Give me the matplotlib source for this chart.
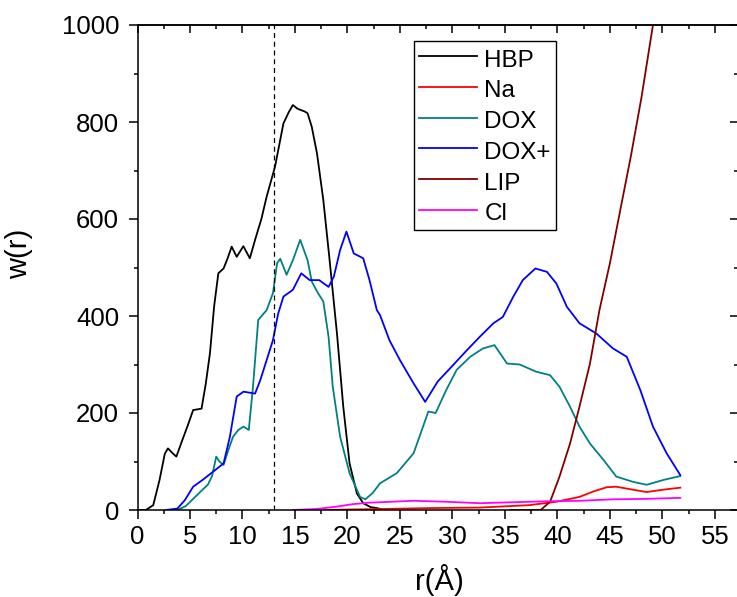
import matplotlib
matplotlib.use("Agg")
import matplotlib.pyplot as plt
from matplotlib.ticker import MultipleLocator

plt.rcParams['font.family'] = ['Liberation Sans', 'DejaVu Sans']

# w(r) curves, r in angstrom
r_hbp = [0, 0.8, 1.5, 2.1, 2.6, 2.9, 3.3, 3.7, 4.2, 4.8, 5.3, 6.1, 6.5, 6.9, 7.3, 7.7,
         8.2, 8.6, 8.97, 9.45, 10.08, 10.7, 11.2, 11.8, 12.3, 13.1, 13.9, 14.4, 14.8,
         15.2, 15.5, 15.9, 16.2, 16.6, 17.1, 17.7, 18.3, 19.0, 19.6, 20.2, 20.9, 21.5,
         22.2, 22.8, 23.5]
w_hbp = [0, 0, 10, 62, 116, 127, 118, 110, 140, 175, 206, 209, 260, 323, 420, 488,
         498, 520, 543, 522, 544, 519, 557, 600, 646, 708, 797, 820, 835,
         828, 825, 822, 818, 790, 735, 639, 515, 364, 213, 96, 34, 14,
         6, 4, 0]

r_na = [17.8, 20, 23.1, 28, 32.6, 37.3, 39.9, 42.1, 43.4, 44.7, 45.6, 46.9, 48.5, 50.1, 51.7]
w_na = [0, 1, 2, 4, 5, 10, 17, 27, 38, 47, 48, 43, 37, 42, 46]

r_dox = [3.8, 4.6, 5.4, 6.2, 6.7, 7.1, 7.5, 7.8, 8.2, 8.6, 9.1, 9.6, 10.1, 10.6, 11.0,
         11.5, 12.3, 12.9, 13.3, 13.6, 14.2, 14.8, 15.5, 16.2, 16.6, 17.2, 17.7, 18.2,
         18.6, 19.3, 20.2, 21.2, 21.7, 22.4, 23.1, 24.7, 26.3, 27.2, 27.7, 28.4, 29.4,
         30.4, 31.7, 32.9, 34.0, 35.2, 36.4, 38.0, 39.3, 40.2, 41.2, 42.1, 43.1, 44.4,
         45.6, 47.2, 48.5, 50.1, 51.7]
w_dox = [0, 8, 25, 42, 52, 70, 110, 100, 93, 120, 151, 165, 172, 165, 254,
         392, 412, 447, 509, 518, 485, 515, 557, 515, 471, 447, 430, 357,
         254, 151, 76, 27, 22, 35, 55, 76, 117, 172, 203, 200, 247,
         289, 316, 333, 340, 302, 300, 285, 278, 254, 213, 172, 137, 103,
         69, 58, 52, 62, 70]

r_doxp = [2.7, 3.8, 4.5, 5.3, 6.2, 7.2, 8.2, 8.8, 9.45, 10.1, 11.2, 11.7, 12.3, 12.9,
          13.4, 13.9, 14.8, 15.6, 16.4, 17.3, 18.2, 18.7, 19.3, 19.9, 20.6, 21.5, 22.1,
          22.8, 23.1, 24.0, 25.0, 26.3, 27.4, 28.6, 29.9, 31.4, 32.6, 33.9, 34.8, 35.8,
          36.7, 37.9, 39.0, 39.9, 40.9, 42.1, 43.7, 45.3, 46.6, 47.9, 49.1, 50.4, 51.7]
w_doxp = [0, 3, 20, 48, 62, 79, 96, 151, 234, 244, 240, 268, 309, 350,
          405, 440, 454, 488, 474, 474, 460, 481, 536, 574, 529, 519, 474,
          412, 402, 350, 309, 261, 223, 265, 295, 330, 357, 385, 398, 440,
          474, 498, 491, 467, 419, 385, 364, 333, 316, 247, 172, 117, 72]

r_lip = [35.5, 38.4, 39.3, 40.2, 41.2, 42.1, 43.1, 44.0, 45.0, 46.0, 47.0, 48.0, 49.1, 51.7]
w_lip = [0, 0, 17, 69, 137, 213, 302, 412, 509, 620, 730, 850, 1000, 1300]

r_cl = [14.8, 17, 19, 20.5, 22, 23.1, 26.3, 29.4, 32.6, 35.8, 39.0, 42.1, 45.3, 48.5, 51.7]
w_cl = [0, 2, 7, 12, 15, 16, 19, 17, 14, 16, 18, 19, 22, 23, 25]

r_cut = 13.0

fig = plt.figure(figsize=(7.37, 5.97), dpi=100)
ax = fig.add_axes([137.5 / 737, 87 / 597, 600.5 / 737, 485 / 597])

lw = 1.3
ax.plot(r_hbp, w_hbp, color='black', lw=lw, label='HBP')
ax.plot(r_na, w_na, color='#ff0000', lw=lw, label='Na')
ax.plot(r_dox, w_dox, color='#008080', lw=lw, label='DOX')
ax.plot(r_doxp, w_doxp, color='#0000ff', lw=lw, label='DOX+')
ax.plot(r_lip, w_lip, color='#800000', lw=lw, label='LIP')
ax.plot(r_cl, w_cl, color='#ff00ff', lw=lw, label='Cl')
ax.axvline(r_cut, color='black', lw=0.9, linestyle=(0, (4, 3)))

ax.set_xlim(0, 57.2)
ax.set_ylim(0, 1000)

# bottom/left ticks point out, mirrored ticks on top/right point in
ax.xaxis.set_major_locator(MultipleLocator(5))
ax.xaxis.set_minor_locator(MultipleLocator(2.5))
ax.yaxis.set_major_locator(MultipleLocator(200))
ax.yaxis.set_minor_locator(MultipleLocator(100))
ax.tick_params(which='both', direction='out', width=1.1, labelsize=18.5)
ax.tick_params(which='major', length=6.7)
ax.tick_params(which='minor', length=3.2)
ax.tick_params(axis='x', pad=4)
ax.tick_params(axis='y', pad=6.5)

top = ax.secondary_xaxis('top')
top.xaxis.set_major_locator(MultipleLocator(5))
top.xaxis.set_minor_locator(MultipleLocator(2.5))
right = ax.secondary_yaxis('right')
right.yaxis.set_major_locator(MultipleLocator(200))
right.yaxis.set_minor_locator(MultipleLocator(100))
for sec in (top, right):
    sec.tick_params(which='both', direction='in', width=1.1,
                    labeltop=False, labelright=False)
    sec.tick_params(which='major', length=5.8)
    sec.tick_params(which='minor', length=3)

for s in list(ax.spines.values()) + [top.spines['top'], right.spines['right']]:
    s.set_linewidth(1.1)

ax.set_xlabel('r(Å)', fontsize=21)
ax.set_ylabel('w(r)', fontsize=21)
ax.xaxis.set_label_coords(0.503, -0.112)
ax.yaxis.set_label_coords(-0.1735, 0.529)

leg = ax.legend(loc='upper left', bbox_to_anchor=(0.4604, 0.967), borderaxespad=0,
                fontsize=17.5, handlelength=2.4, handletextpad=0.3,
                handleheight=1.2, labelspacing=0.21, borderpad=0.2,
                fancybox=False, framealpha=1)
leg.get_frame().set_edgecolor('black')
leg.get_frame().set_linewidth(1.0)

fig.savefig('out.png', dpi=100)
